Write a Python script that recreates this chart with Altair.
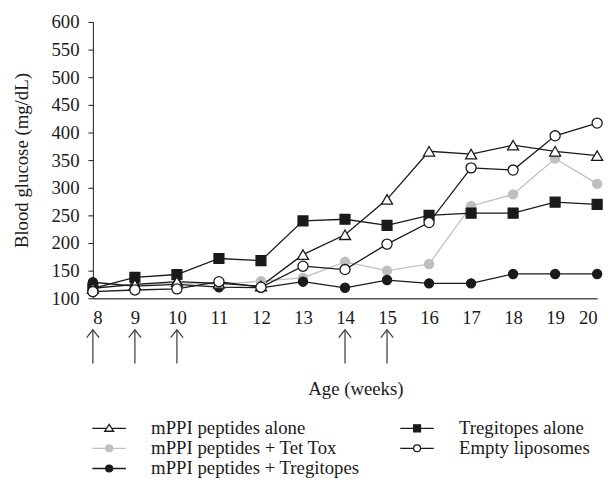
import altair as alt
import pandas as pd

weeks = [8, 9, 10, 11, 12, 13, 14, 15, 16, 17, 18, 19, 20]
# legend order (column-major: first column then second column)
series_names = [
    "mPPI peptides alone",
    "mPPI peptides + Tet Tox",
    "mPPI peptides + Tregitopes",
    "Tregitopes alone",
    "Empty liposomes",
]
mppi_alone = [118, 125, 130, 127, 122, 179, 215, 279, 366, 361, 377, 366, 358]
tregitopes_alone = [118, 138, 143, 172, 168, 240, 243, 232, 250, 254, 254, 274, 270]
mppi_tettox = [120, 124, 128, 125, 131, 137, 166, 150, 162, 267, 288, 353, 307]
empty_lipo = [112, 115, 117, 130, 120, 158, 152, 198, 237, 336, 332, 394, 417]
mppi_treg = [129, 122, 125, 120, 119, 130, 119, 133, 127, 127, 144, 144, 144]
arrow_weeks = [8, 9, 10, 14, 15]
y_ticks = [100, 150, 200, 250, 300, 350, 400, 450, 500, 550, 600]

values = {
    "mPPI peptides alone": mppi_alone,
    "Tregitopes alone": tregitopes_alone,
    "mPPI peptides + Tet Tox": mppi_tettox,
    "Empty liposomes": empty_lipo,
    "mPPI peptides + Tregitopes": mppi_treg,
}
rows = []
for s, vals in values.items():
    for w, v in zip(weeks, vals):
        rows.append({"week": w, "glucose": v, "series": s})
df = pd.DataFrame(rows)

GREY = "#bfbfbf"
INK = "#1a1a1a"
FONT = "Liberation Serif"

styles = {
    "mPPI peptides + Tet Tox": dict(shape="circle", size=85, fill=GREY, stroke=GREY),
    "mPPI peptides + Tregitopes": dict(shape="circle", size=85, fill=INK, stroke=INK),
    "Tregitopes alone": dict(shape="square", size=100, fill=INK, stroke=INK),
    "mPPI peptides alone": dict(shape="triangle-up", size=125, fill="white", stroke=INK),
    "Empty liposomes": dict(shape="circle", size=105, fill="white", stroke=INK),
}

x_scale = alt.Scale(domain=[8, 20], nice=False, zero=False)
y_scale = alt.Scale(domain=[100, 600], nice=False, zero=False)

base = alt.Chart(df)

x_enc = alt.X(
    "week:Q", scale=x_scale,
    axis=alt.Axis(values=weeks, format="d", title="Age (weeks)", ticks=False, tickSize=0,
                  labelPadding=11, titlePadding=53, titleX=266, grid=False,
                  domainColor="#555555", domainWidth=1.5),
)
y_enc = alt.Y(
    "glucose:Q", scale=y_scale,
    axis=alt.Axis(values=y_ticks, title="Blood glucose (mg/dL)", tickSize=5, labelPadding=9,
                  titlePadding=20, grid=False, domainColor=INK, tickColor=INK),
)

black_lines = base.transform_filter(
    alt.datum.series != "mPPI peptides + Tet Tox"
).mark_line(color=INK, strokeWidth=1.3).encode(x=x_enc, y=y_enc, detail="series:N")
grey_line = base.transform_filter(
    alt.datum.series == "mPPI peptides + Tet Tox"
).mark_line(color=GREY, strokeWidth=1.3).encode(x=x_enc, y=y_enc)

point_layers = []
for s, st in styles.items():
    point_layers.append(
        base.transform_filter(alt.datum.series == s)
        .mark_point(shape=st["shape"], size=st["size"], fill=st["fill"], stroke=st["stroke"],
                    strokeWidth=1.3, opacity=1, filled=False)
        .encode(x=x_enc, y=y_enc)
    )

# arrows below the axis (treatment weeks)
arrow_df = pd.DataFrame({"week": arrow_weeks})
arrow_shaft = alt.Chart(arrow_df).mark_rule(color="#444444", strokeWidth=1.3).encode(
    x=alt.X("week:Q", scale=x_scale), y=alt.value(312), y2=alt.value(346)
)
arrow_head = alt.Chart(arrow_df).mark_point(
    shape="M-1.05,1.3L0,0L1.05,1.3", size=144, stroke="#444444", strokeWidth=1.3,
    fill="transparent", opacity=1, filled=False
).encode(x=alt.X("week:Q", scale=x_scale), y=alt.value(312))

# legend (line + marker glyphs)
line_part = "M-3.4,0H-0.75M0.75,0H3.4"
tri_line = "M-3.4,0H-0.45M0.45,0H3.4"
circle_part = "M-0.7,0A0.7,0.7 0 1,0 0.7,0A0.7,0.7 0 1,0 -0.7,0Z"
legend_paths = [
    tri_line + "M0,-0.8L0.9,0.6L-0.9,0.6Z",
    line_part + circle_part,
    line_part + circle_part,
    line_part + "M-0.7,-0.7H0.7V0.7H-0.7Z",
    line_part + circle_part,
]
legend_fill = ["white", GREY, INK, INK, "white"]
legend_stroke = [INK, GREY, INK, INK, INK]

leg = alt.Legend(
    title=None, orient="none", legendX=7, legendY=402, columns=2, columnPadding=37,
    rowPadding=0.5, labelOffset=33, symbolSize=100, symbolStrokeWidth=1.3,
    labelFont=FONT, labelFontSize=19, labelColor=INK, labelLimit=400, padding=0,
)
legend_layer = alt.Chart(pd.DataFrame({"series": series_names})).mark_point(
    opacity=1, strokeWidth=1.3
).encode(
    shape=alt.Shape("series:N", scale=alt.Scale(domain=series_names, range=legend_paths), legend=leg),
    fill=alt.Fill("series:N", scale=alt.Scale(domain=series_names, range=legend_fill), legend=leg),
    stroke=alt.Stroke("series:N", scale=alt.Scale(domain=series_names, range=legend_stroke), legend=leg),
).transform_filter("false")

chart = alt.layer(
    grey_line, black_lines, *point_layers, arrow_shaft, arrow_head, legend_layer
).properties(
    width=511, height=280,
    autosize=alt.AutoSizeParams(type="none"),
    padding={"left": 86, "top": 11, "right": 11, "bottom": 181},
).configure_view(stroke=None).configure_axis(
    labelFont=FONT, labelFontSize=19, labelColor=INK,
    titleFont=FONT, titleFontSize=19, titleColor=INK, titleFontWeight="normal",
)

chart.save("out.html", embed_options={"renderer": "svg", "actions": False})
